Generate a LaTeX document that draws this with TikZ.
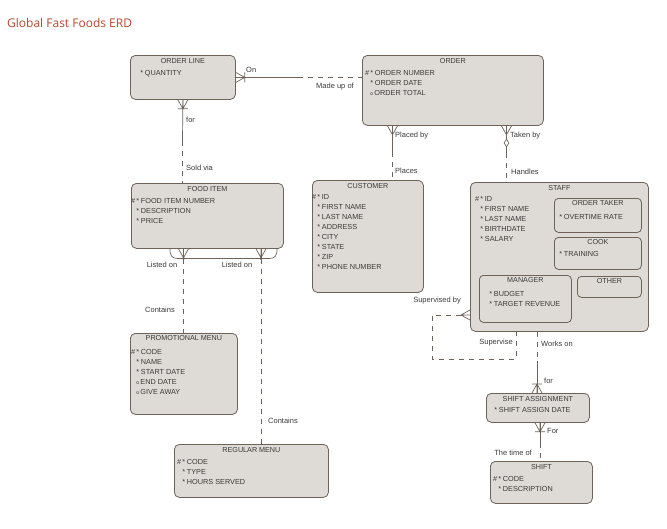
\documentclass[tikz,border=0pt]{standalone}
\usepackage{fontspec}
\setmainfont{Liberation Sans}
\newfontfamily\headfont{Open Sans}
\usepackage{tikz}
\usetikzlibrary{shapes}

\definecolor{boxfill}{HTML}{DEDAD6}
\definecolor{boxline}{HTML}{6E6259}
\definecolor{txt}{HTML}{3A3A3A}
\definecolor{headred}{HTML}{B5472A}

\newcommand{\uid}{\#\,*\hspace{1.6pt}}
\newcommand{\mnd}{\hphantom{\#\,}*\hspace{1.6pt}}
\newcommand{\opt}{\hphantom{\#\,}{\fontsize{5}{5}\selectfont o}\hspace{1.2pt}}

\begin{document}
\begin{tikzpicture}[x=1pt,y=-1pt,
	entity/.style={rectangle,draw=boxline,fill=boxfill,line width=0.8pt,rounded corners=5pt,anchor=north west,inner sep=0pt},
	subentity/.style={entity,rounded corners=4pt},
	etitle/.style={text=txt,font=\fontsize{7.2}{10}\selectfont,inner sep=0pt,anchor=north},
	attrs/.style={text=txt,font=\fontsize{7.3}{10}\selectfont,inner sep=0pt,anchor=north west,align=left},
	rel/.style={draw=boxline,line width=0.7pt},
	optrel/.style={rel,dash pattern=on 5pt off 5pt},
	lbl/.style={text=txt,font=\fontsize{7.5}{9}\selectfont,inner sep=0pt},
	isle/.style={diamond,draw=boxline,fill=white,line width=0.7pt,minimum width=5pt,minimum height=8pt,inner sep=0pt},
	crow/.pic={\draw[rel] (0,-5) -- (9,0) -- (0,5) (0,0) -- (9,0);},
	crowbar/.pic={\draw[rel] (0,-5) -- (9,0) -- (0,5) (0,0) -- (9,0) (9,-5) -- (9,5);}
	]
	
		\useasboundingbox (0,0) rectangle (667,528);
		\node[anchor=west,text=headred,font=\headfont\fontsize{12}{14}\selectfont,inner sep=0pt] (heading) at (7,23) {Global Fast Foods ERD};
		
		\node[entity,minimum width=105pt,minimum height=44pt] (orderline) at (130,55) {};
		\node[entity,minimum width=181pt,minimum height=70pt] (order) at (362,55) {};
		\node[entity,minimum width=152pt,minimum height=65pt] (fooditem) at (131,183) {};
		\node[entity,minimum width=111pt,minimum height=112pt] (customer) at (312,180) {};
		\node[entity,minimum width=178pt,minimum height=149pt] (staff) at (470,182) {};
		\node[subentity,minimum width=87pt,minimum height=34pt] (ordertaker) at (554,198) {};
		\node[subentity,minimum width=87pt,minimum height=32pt] (cook) at (554,237) {};
		\node[subentity,minimum width=92pt,minimum height=47pt] (manager) at (479,275) {};
		\node[subentity,minimum width=64pt,minimum height=21pt] (other) at (577,276) {};
		\node[entity,minimum width=107pt,minimum height=81pt] (promo) at (130,333) {};
		\node[entity,minimum width=154pt,minimum height=53pt] (regular) at (174,444) {};
		\node[entity,minimum width=103pt,minimum height=29pt] (shiftassign) at (486,393) {};
		\node[entity,minimum width=102pt,minimum height=42pt] (shift) at (490,461) {};
		
		\node[etitle] (t-orderline) at ([yshift=-3pt]orderline.north) {ORDER LINE};
		\node[etitle] (t-order) at ([yshift=-3.5pt]order.north) {ORDER};
		\node[etitle] (t-fooditem) at ([yshift=-3.5pt]fooditem.north) {FOOD ITEM};
		\node[etitle] (t-customer) at ([yshift=-3pt]customer.north) {CUSTOMER};
		\node[etitle] (t-staff) at ([yshift=-3pt]staff.north) {STAFF};
		\node[etitle] (t-ordertaker) at ([yshift=-2.5pt]ordertaker.north) {ORDER TAKER};
		\node[etitle] (t-cook) at ([yshift=-2.5pt]cook.north) {COOK};
		\node[etitle] (t-manager) at ([yshift=-2.5pt]manager.north) {MANAGER};
		\node[etitle] (t-other) at ([yshift=-2.5pt]other.north) {OTHER};
		\node[etitle] (t-promo) at ([yshift=-2.5pt]promo.north) {PROMOTIONAL MENU};
		\node[etitle] (t-regular) at ([yshift=-3.5pt]regular.north) {REGULAR MENU};
		\node[etitle] (t-shiftassign) at ([yshift=-3.5pt]shiftassign.north) {SHIFT ASSIGNMENT};
		\node[etitle] (t-shift) at ([yshift=-3pt]shift.north) {SHIFT};
		
		\node[attrs] (a-orderline) at (135,70) {\mnd QUANTITY};
		\node[attrs] (a-order) at (365,70.5) {\uid ORDER NUMBER\\ \mnd ORDER DATE\\ \opt ORDER TOTAL};
		\node[attrs] (a-fooditem) at (131,198.5) {\uid FOOD ITEM NUMBER\\ \mnd DESCRIPTION\\ \mnd PRICE};
		\node[attrs] (a-customer) at (312,194.5) {\uid ID\\ \mnd FIRST NAME\\ \mnd LAST NAME\\ \mnd ADDRESS\\ \mnd CITY\\ \mnd STATE\\ \mnd ZIP\\ \mnd PHONE NUMBER};
		\node[attrs] (a-staff) at (475,196.5) {\uid ID\\ \mnd FIRST NAME\\ \mnd LAST NAME\\ \mnd BIRTHDATE\\ \mnd SALARY};
		\node[attrs] (a-ordertaker) at (554,214) {\mnd OVERTIME RATE};
		\node[attrs] (a-cook) at (554,251.5) {\mnd TRAINING};
		\node[attrs] (a-manager) at (484,291) {\mnd BUDGET\\ \mnd TARGET REVENUE};
		\node[attrs] (a-promo) at (131,349) {\uid CODE\\ \mnd NAME\\ \mnd START DATE\\ \opt END DATE\\ \opt GIVE AWAY};
		\node[attrs] (a-regular) at (177,459.5) {\uid CODE\\ \mnd TYPE\\ \mnd HOURS SERVED};
		\node[attrs] (a-shiftassign) at (489,407.5) {\mnd SHIFT ASSIGN DATE};
		\node[attrs] (a-shift) at (493,476.5) {\uid CODE\\ \mnd DESCRIPTION};
		
		\coordinate (m1) at (298,77.5);
		\draw[rel] (orderline.east) -- (m1);
		\draw[optrel] (m1) -- (order.west |- m1);
		\pic at (orderline.east) {crowbar};
		\node[lbl,anchor=west] (l-on) at (246,70) {On};
		\node[lbl] (l-madeup) at (335,87) {Made up of};
		
		\coordinate (m2) at (182.5,141);
		\draw[rel] (orderline.south) -- (m2);
		\draw[optrel] (m2) -- (m2 |- fooditem.north);
		\pic[rotate=-90] at (orderline.south) {crowbar};
		\node[lbl,anchor=west] (l-for1) at (186,120) {for};
		\node[lbl,anchor=west] (l-soldvia) at (186,168) {Sold via};
		
		\coordinate (m3) at (392.5,152);
		\draw[rel] (m3 |- order.south) -- (m3);
		\draw[optrel] (m3) -- (m3 |- customer.north);
		\pic[rotate=-90] at (m3 |- order.south) {crow};
		\node[lbl,anchor=west] (l-placedby) at (395,136) {Placed by};
		\node[lbl,anchor=west] (l-places) at (395,171) {Places};
		
		\coordinate (m4) at (506.5,153);
		\draw[rel] (m4 |- order.south) -- (m4);
		\draw[optrel] (m4) -- (m4 |- staff.north);
		\pic[rotate=-90] at (m4 |- order.south) {crow};
		\node[isle] (ntrans) at (506.5,143) {};
		\node[lbl,anchor=west] (l-takenby) at (510,136) {Taken by};
		\node[lbl,anchor=west] (l-handles) at (511,172) {Handles};
		
		\coordinate (d1) at (183.5,258.5);
		\coordinate (d2) at (261,258.5);
		\draw[rel] (d1 |- fooditem.south) -- (d1);
		\draw[rel] (d2 |- fooditem.south) -- (d2);
		\pic[rotate=-90] at (d1 |- fooditem.south) {crow};
		\pic[rotate=-90] at (d2 |- fooditem.south) {crow};
		\draw[rel] (170,249) .. controls (170,256) and (172,258.5) .. (178,258.5) -- (269,258.5) .. controls (275,258.5) and (277,256) .. (277,249);
		\fill[boxline] (d1) circle (1.6pt) (d2) circle (1.6pt);
		\draw[optrel] (d1) -- (d1 |- promo.north);
		\draw[optrel] (d2) -- (d2 |- regular.north);
		\node[lbl] (l-listed1) at (162,265) {Listed on};
		\node[lbl] (l-listed2) at (237,265) {Listed on};
		\node[lbl] (l-contains1) at (160,310) {Contains};
		\node[lbl,anchor=west] (l-contains2) at (268,421) {Contains};
		
		\coordinate (s1) at (461,315);
		\coordinate (s2) at (432,315);
		\coordinate (s3) at (432,359);
		\coordinate (s4) at (516,359);
		\pic[rotate=180] at (staff.west |- s1) {crow};
		\draw[optrel] (s1) -- (s2) -- (s3) -- (s4) -- (s4 |- staff.south);
		\node[lbl,anchor=east] (l-supervisedby) at (461,301) {Supervised by};
		\node[lbl] (l-supervise) at (496,343) {Supervise};
		
		\coordinate (m7) at (537,361);
		\draw[optrel] (m7 |- staff.south) -- (m7);
		\draw[rel] (m7) -- (m7 |- shiftassign.north);
		\pic[rotate=90] at (m7 |- shiftassign.north) {crowbar};
		\node[lbl,anchor=west] (l-workson) at (541,344) {Works on};
		\node[lbl,anchor=west] (l-for2) at (544,381) {for};
		
		\coordinate (m8) at (540,443);
		\draw[rel] (m8 |- shiftassign.south) -- (m8);
		\draw[optrel] (m8) -- (m8 |- shift.north);
		\pic[rotate=-90] at (m8 |- shiftassign.south) {crowbar};
		\node[lbl,anchor=west] (l-for3) at (547,431) {For};
		\node[lbl,anchor=east] (l-timeof) at (532,453) {The time of};
		
	\end{tikzpicture}
\end{document}
